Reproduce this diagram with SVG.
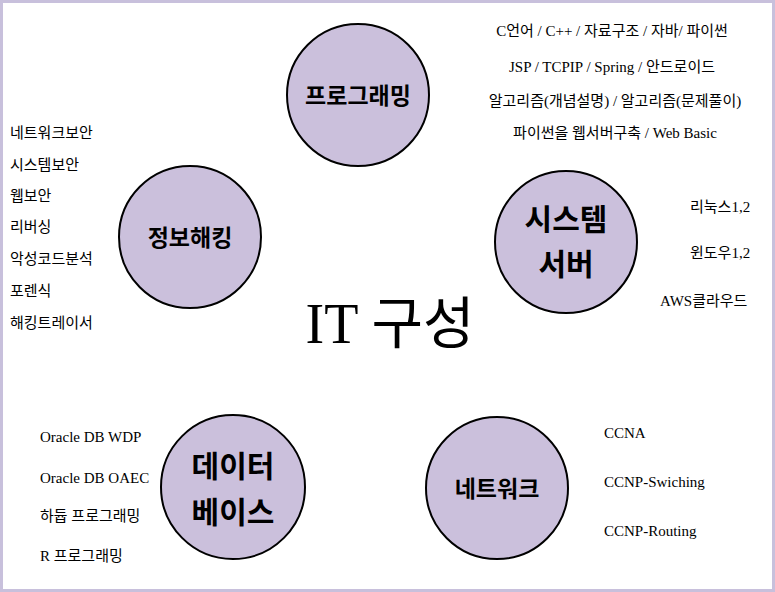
<svg xmlns="http://www.w3.org/2000/svg" width="775" height="592" viewBox="0 0 775 592">
<style>
.c{fill:#cbc0dc;stroke:#000;stroke-width:2}
.t{font-family:"Liberation Serif","Noto Sans CJK KR",serif;font-size:15px;fill:#000}
.l{font-family:"Noto Sans CJK KR",sans-serif;font-weight:bold;fill:#000;text-anchor:middle}
</style>
<rect x="1.5" y="1.5" width="772" height="589" fill="#fff" stroke="#c8c0dc" stroke-width="3"/>
<g id="programming"><circle class="c" cx="358" cy="95" r="71"/><text class="l" x="358" y="104" font-size="23">프로그래밍</text></g>
<g id="system"><circle class="c" cx="566" cy="242" r="71"/><text class="l" x="566" y="230" font-size="30">시스템</text><text class="l" x="566" y="275" font-size="30">서버</text></g>
<g id="hacking"><circle class="c" cx="190" cy="237" r="71"/><text class="l" x="190" y="246" font-size="23">정보해킹</text></g>
<g id="database"><circle class="c" cx="233" cy="487" r="72"/><text class="l" x="233" y="477" font-size="30">데이터</text><text class="l" x="233" y="523" font-size="30">베이스</text></g>
<g id="network"><circle class="c" cx="497" cy="488" r="71"/><text class="l" x="497" y="497" font-size="23">네트워크</text></g>
<text x="390" y="343" text-anchor="middle" font-family="'Liberation Serif','Noto Sans CJK KR',serif" font-size="56">IT 구성</text>
<g class="t" text-anchor="middle">
<text x="612" y="36">C언어 / C++ / 자료구조 / 자바/ 파이썬</text>
<text x="612" y="72">JSP / TCPIP / Spring / 안드로이드</text>
<text x="615" y="106">알고리즘(개념설명) / 알고리즘(문제풀이)</text>
<text x="615" y="138">파이썬을 웹서버구축 / Web Basic</text>
</g>
<g class="t">
<text x="10" y="138">네트워크보안</text>
<text x="10" y="170">시스템보안</text>
<text x="10" y="201">웹보안</text>
<text x="10" y="232">리버싱</text>
<text x="10" y="264">악성코드분석</text>
<text x="10" y="296">포렌식</text>
<text x="10" y="328">해킹트레이서</text>
<text x="690" y="212">리눅스1,2</text>
<text x="690" y="258">윈도우1,2</text>
<text x="660" y="306">AWS클라우드</text>
<text x="40" y="442">Oracle DB WDP</text>
<text x="40" y="483">Oracle DB OAEC</text>
<text x="40" y="521">하듑 프로그래밍</text>
<text x="40" y="561">R 프로그래밍</text>
<text x="604" y="438">CCNA</text>
<text x="604" y="487">CCNP-Swiching</text>
<text x="604" y="536">CCNP-Routing</text>
</g>
</svg>
